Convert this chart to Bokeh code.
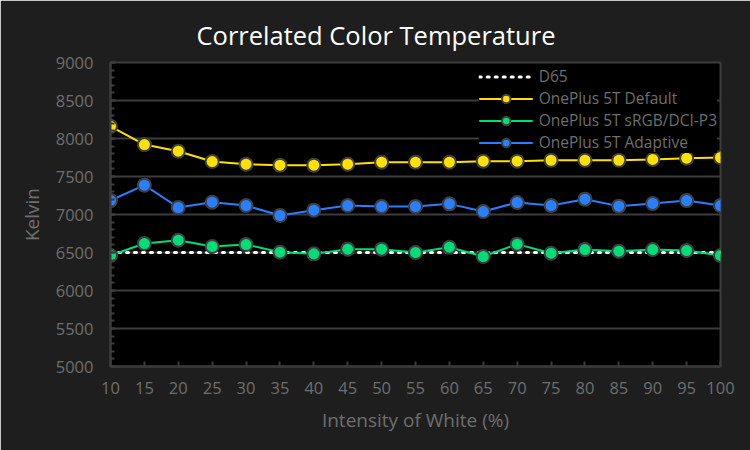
from bokeh.plotting import figure
from bokeh.models import Range1d, FixedTicker, Legend, LegendItem
from bokeh.embed import file_html
from bokeh.resources import INLINE

intensity = [10, 15, 20, 25, 30, 35, 40, 45, 50, 55, 60, 65, 70, 75, 80, 85, 90, 95, 100]
d65 = [6500] * len(intensity)
default = [8160, 7920, 7833, 7697, 7662, 7649, 7649, 7662, 7688, 7688, 7688, 7701, 7701, 7714, 7714, 7714, 7724, 7741, 7750]
srgb = [6461, 6618, 6662, 6579, 6605, 6504, 6482, 6544, 6544, 6500, 6570, 6447, 6610, 6491, 6539, 6517, 6539, 6526, 6461]
adaptive = [7184, 7386, 7092, 7162, 7118, 6987, 7057, 7118, 7105, 7105, 7140, 7039, 7158, 7118, 7202, 7110, 7145, 7184, 7118]
x_ticks = list(range(10, 101, 5))
y_ticks = list(range(5000, 9001, 500))

FONT = "Open Sans"
BG = "#1e1e1e"
TXT = "#6e6e6e"

p = figure(width=750, height=450, output_backend="svg", toolbar_location=None,
           x_range=Range1d(10, 100), y_range=Range1d(5000, 9000),
           min_border_left=110, min_border_right=30, min_border_top=62, min_border_bottom=84,
           background_fill_color="black", border_fill_color=BG,
           outline_line_color="#3c3c3c", outline_line_width=2)

p.title.text = "Correlated Color Temperature"
p.title.text_color = "white"
p.title.text_font = FONT
p.title.text_font_size = "25.5px"
p.title.text_font_style = "normal"
p.title.align = "left"
p.title.offset = 86
p.title.standoff = 22

p.xgrid.visible = False
p.ygrid.ticker = FixedTicker(ticks=y_ticks)
p.ygrid.grid_line_color = "#3c3c3c"
p.ygrid.grid_line_width = 2

p.xaxis.ticker = FixedTicker(ticks=x_ticks)
p.yaxis.ticker = FixedTicker(ticks=y_ticks, minor_ticks=list(range(5000, 9001, 100)))
for ax in (p.xaxis[0], p.yaxis[0]):
    ax.axis_line_color = "#3c3c3c"
    ax.axis_line_width = 2
    ax.major_tick_line_color = "#3c3c3c"
    ax.major_tick_line_width = 2
    ax.major_tick_in = 5
    ax.major_tick_out = 0
    ax.minor_tick_line_color = "#3c3c3c"
    ax.minor_tick_line_width = 2
    ax.minor_tick_in = 4
    ax.minor_tick_out = 0
    ax.major_label_text_color = TXT
    ax.major_label_text_font = FONT
    ax.major_label_text_font_size = "16.5px"
    ax.axis_label_text_color = TXT
    ax.axis_label_text_font = FONT
    ax.axis_label_text_font_size = "19px"
    ax.axis_label_text_font_style = "normal"
p.xaxis.minor_tick_line_color = None
p.xaxis.axis_label = "Intensity of White (%)"
p.yaxis.axis_label = "Kelvin"
p.xaxis.major_label_standoff = 15
p.yaxis.major_label_standoff = 17
p.xaxis.axis_label_standoff = 10
p.yaxis.axis_label_standoff = 8

r_d65 = p.line(intensity, d65, line_color="white", line_width=3, line_dash="2 6", line_cap="round")

items = [LegendItem(label="D65", renderers=[r_d65])]
for vals, col, name in [(default, "#ffe100", "OnePlus 5T Default"),
                        (srgb, "#00dd77", "OnePlus 5T sRGB/DCI-P3"),
                        (adaptive, "#2a7fff", "OnePlus 5T Adaptive")]:
    rl = p.line(intensity, vals, line_color=col, line_width=2)
    rc = p.scatter(intensity, vals, size=13, fill_color=col, line_color="#3f3f3f", line_width=2)
    items.append(LegendItem(label=name, renderers=[rl, rc]))

legend = Legend(items=items, location="top_right", background_fill_color="black",
                background_fill_alpha=1, border_line_color=None,
                label_text_color=TXT, label_text_font=FONT, label_text_font_size="15.5px",
                glyph_width=54, glyph_height=21, label_height=18, spacing=0,
                padding=3, margin=3, label_standoff=6)
p.add_layout(legend)

html = file_html(p, INLINE)
open("out.html", "w").write(html)
